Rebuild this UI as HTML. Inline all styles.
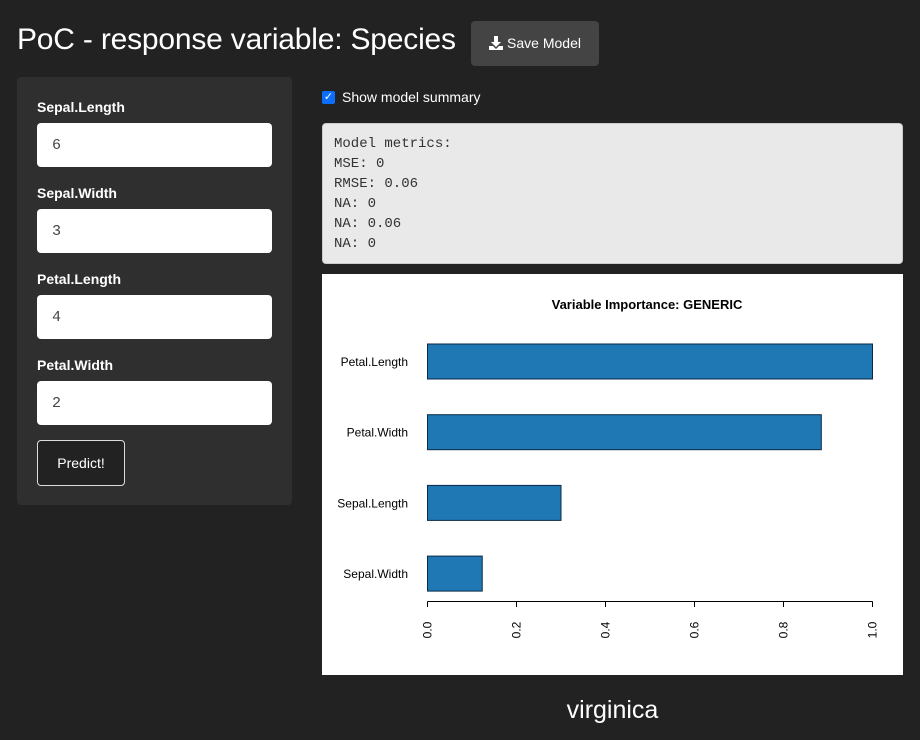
<!DOCTYPE html>
<html><head><meta charset="utf-8"><style>
body{margin:0;width:920px;height:740px;background:#222;font-family:"Liberation Sans",sans-serif;overflow:hidden;position:relative;color:#fff}
.abs{position:absolute}
.lbl{position:absolute;left:37px;font-weight:bold;font-size:14px;color:#fff}
.inp{position:absolute;left:37px;width:235px;height:44px;background:#fff;border-radius:4px;box-sizing:border-box;padding:14px 0 0 15px;font-family:"Liberation Mono",monospace;font-size:15px;color:#444}
pre{margin:0}
</style></head><body>
<div class="abs" style="left:17px;top:23px;font-size:30px;letter-spacing:-0.2px;color:#fff">PoC - response variable: Species</div>
<div class="abs" style="left:471px;top:21px;width:128px;height:45px;background:#444;border-radius:4px;font-size:14px;line-height:45px;text-align:center"><svg width="14" height="14" viewBox="0 0 14 14" style="vertical-align:-2px;margin-right:4px"><path d="M5 0h4v6h3l-5 5-5-5h3z M0 10h4l3 3 3-3h4v4H0z" fill="#fff"/></svg>Save Model</div>

<div class="abs" style="left:17px;top:77px;width:275px;height:428px;background:#2f2f2f;border-radius:4px"></div>
<div class="lbl" style="top:99px">Sepal.Length</div>
<div class="inp" style="top:123px">6</div>
<div class="lbl" style="top:185px">Sepal.Width</div>
<div class="inp" style="top:209px">3</div>
<div class="lbl" style="top:271px">Petal.Length</div>
<div class="inp" style="top:295px">4</div>
<div class="lbl" style="top:357px">Petal.Width</div>
<div class="inp" style="top:381px">2</div>
<div class="abs" style="left:37px;top:440px;width:88px;height:46px;box-sizing:border-box;border:1px solid #ddd;border-radius:4px;background:#222;font-size:14px;line-height:44px;text-align:center">Predict!</div>

<div class="abs" style="left:322px;top:91px;width:13px;height:13px;background:#0d6efd;border-radius:2px;color:#fff;font-size:11px;line-height:13px;text-align:center">✓</div>
<div class="abs" style="left:342px;top:89px;font-size:14px">Show model summary</div>

<div class="abs" style="left:322px;top:123px;width:581px;height:141px;background:#e9e9e9;border:1px solid #ccc;border-radius:4px;box-sizing:border-box;padding:10px 0 0 11px;color:#333"><pre style="font-family:'Liberation Mono',monospace;font-size:14px;line-height:20px">Model metrics:
MSE: 0
RMSE: 0.06
NA: 0
NA: 0.06
NA: 0</pre></div>

<svg class="abs" style="left:322px;top:274px" width="581" height="401">
<rect width="581" height="401" fill="#fff"/>
<g id="g"></g>
</svg>
<div class="abs" style="left:322px;top:696px;width:581px;text-align:center;font-size:25px">virginica</div>

<script>
const categories=["Petal.Length","Petal.Width","Sepal.Length","Sepal.Width"];
const values=[1.0,0.885,0.30,0.123];
const ticks=[0,0.2,0.4,0.6,0.8,1.0];
const tickLabels=["0.0","0.2","0.4","0.6","0.8","1.0"];
const NS="http://www.w3.org/2000/svg";
const g=document.getElementById('g');
const x=v=>105.5+v*445;
const y=i=>70+i*70.7;
function mk(t,a){const e=document.createElementNS(NS,t);for(const k in a)e.setAttribute(k,a[k]);g.appendChild(e);return e;}
const title=mk('text',{x:325,y:35,'text-anchor':'middle','font-size':13,'font-weight':'bold',fill:'#000'});
title.textContent="Variable Importance: GENERIC";


categories.forEach((c,i)=>{
  const r=mk('rect',{x:x(0),y:y(i),width:x(values[i])-x(0),height:35,fill:'#1f77b4',stroke:'#0a2a45','stroke-width':1});
  
  
  const t=mk('text',{x:86,y:y(i)+22,'text-anchor':'end','font-size':12,fill:'#000'});
  t.textContent=c;
  
  
});
const ax=mk('line',{x1:x(0),x2:x(1),y1:327.5,y2:327.5,stroke:'#000'});


ticks.forEach((v,i)=>{
  mk('line',{x1:x(v),x2:x(v),y1:327.5,y2:333,stroke:'#000'});
  const t=mk('text',{transform:`translate(${x(v)+4},${356}) rotate(-90)`,'text-anchor':'middle','font-size':12,fill:'#000'});
  t.textContent=tickLabels[i];
  
  
});
</script>
</body></html>
